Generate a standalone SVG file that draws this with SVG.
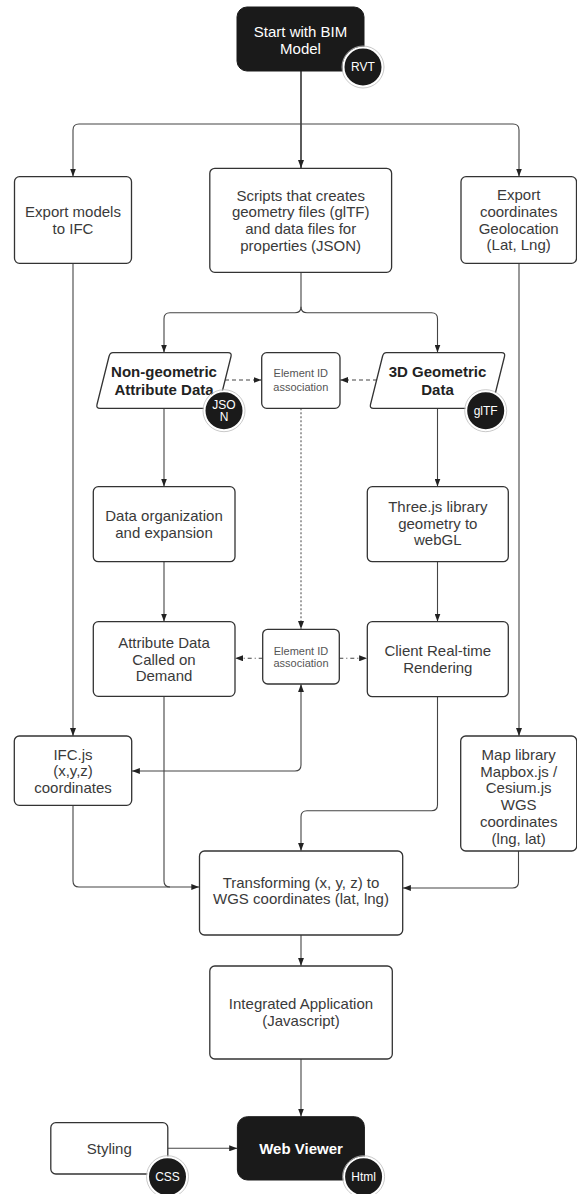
<svg xmlns="http://www.w3.org/2000/svg" width="577" height="1194" viewBox="0 0 577 1194">
<defs>
<marker id="arr" viewBox="0 0 8 6" refX="8" refY="3" markerWidth="8" markerHeight="6" markerUnits="userSpaceOnUse" orient="auto-start-reverse">
<path d="M0,0 L8,3 L0,6 z" fill="#222"/>
</marker>
<style>
.box{fill:#fff;stroke:#333;stroke-width:1.3}
.dark{fill:#1a1a1a;stroke:#1a1a1a;stroke-width:1}
.badge{fill:#1a1a1a;stroke:#fff;stroke-width:2}
.badge-ring{fill:none;stroke:#bbb;stroke-width:0.8}
.t{font-family:"Liberation Sans",Arial,sans-serif;font-size:15px;fill:#3a3a3a;text-anchor:middle}
.tb{font-family:"Liberation Sans",Arial,sans-serif;font-size:15px;font-weight:bold;fill:#222;text-anchor:middle}
.tw{font-family:"Liberation Sans",Arial,sans-serif;font-size:15px;fill:#fff;text-anchor:middle}
.ts{font-family:"Liberation Sans",Arial,sans-serif;font-size:11px;fill:#555;text-anchor:middle}
.tbadge{font-family:"Liberation Sans",Arial,sans-serif;font-size:12px;fill:#fff;text-anchor:middle}
.c{fill:none;stroke:#444;stroke-width:1.1}
.cm{fill:none;stroke:#333;stroke-width:1.6}
.dash{fill:none;stroke:#444;stroke-width:1.1;stroke-dasharray:4 3}
.dot{fill:none;stroke:#555;stroke-width:1.1;stroke-dasharray:2 2}
.dd{fill:none;stroke:#444;stroke-width:1.1;stroke-dasharray:4 3 1 3}
</style>
</defs>

<g id="connectors">
<path class="cm" d="M301,71 V168" marker-end="url(#arr)"/>
<path class="c" d="M301,124 H79 Q73,124 73,130 V176.5" marker-end="url(#arr)"/>
<path class="c" d="M301,124 H513 Q519,124 519,130 V176.5" marker-end="url(#arr)"/>
<path class="c" d="M73,263.3 V736" marker-end="url(#arr)"/>
<path class="c" d="M519,263.3 V736" marker-end="url(#arr)"/>
<path class="c" d="M301,272.3 V306.7 Q301,312.7 295,312.7 H170 Q164,312.7 164,318.7 V352.5" marker-end="url(#arr)"/>
<path class="c" d="M301,306.7 Q301,312.7 307,312.7 H431.5 Q437.5,312.7 437.5,318.7 V352.5" marker-end="url(#arr)"/>
<path class="dash" d="M225,380 H261.5" marker-end="url(#arr)"/>
<path class="dash" d="M377,380 H340.2" marker-end="url(#arr)"/>
<path class="dot" d="M301,408.3 V629" marker-end="url(#arr)"/>
<path class="c" d="M164,408.3 V486.5" marker-end="url(#arr)"/>
<path class="c" d="M437.5,408.3 V486.5" marker-end="url(#arr)"/>
<path class="c" d="M164,561.7 V621.5" marker-end="url(#arr)"/>
<path class="c" d="M437.5,561.7 V621.5" marker-end="url(#arr)"/>
<path class="dd" d="M262.7,658.3 H235.2" marker-end="url(#arr)"/>
<path class="dd" d="M339.3,658.3 H367.1" marker-end="url(#arr)"/>
<path class="c" d="M301,684.2 V765 Q301,771 295,771 H131.9" marker-start="url(#arr)" marker-end="url(#arr)"/>
<path class="c" d="M164,696.3 V881 Q164,887 170,887 H199.3" marker-end="url(#arr)"/>
<path class="c" d="M73,805.3 V881 Q73,887 79,887 H170"/>
<path class="c" d="M437.5,696.7 V804.7 Q437.5,810.7 431.5,810.7 H307 Q301,810.7 301,816.7 V850.8" marker-end="url(#arr)"/>
<path class="c" d="M518.5,851 V882 Q518.5,888 512.5,888 H402.9" marker-end="url(#arr)"/>
<path class="c" d="M301,935 V965.8" marker-end="url(#arr)"/>
<path class="c" d="M301,1059 V1116.5" marker-end="url(#arr)"/>
<path class="c" d="M167.8,1148.3 H237.2" marker-end="url(#arr)"/>
</g>

<g id="start">
<rect class="dark" x="237" y="7" width="127" height="64" rx="10"/>
<text class="tw" x="300.5" y="37">Start with BIM</text>
<text class="tw" x="300.5" y="53.5">Model</text>
<circle class="badge" cx="363" cy="67" r="19.5"/>
<circle class="badge-ring" cx="363" cy="67" r="21"/>
<text class="tbadge" x="363" y="71.3">RVT</text>
</g>

<g id="export-ifc">
<rect class="box" x="14.5" y="176.7" width="117" height="86.6" rx="5"/>
<text class="t" x="73" y="217">Export models</text>
<text class="t" x="73" y="233.7">to IFC</text>
</g>

<g id="scripts">
<rect class="box" x="209.8" y="168.3" width="181.8" height="104" rx="5"/>
<text class="t" x="300.7" y="200.5">Scripts that creates</text>
<text class="t" x="300.7" y="217.2">geometry files (glTF)</text>
<text class="t" x="300.7" y="233.9">and data files for</text>
<text class="t" x="300.7" y="250.6">properties (JSON)</text>
</g>

<g id="export-geo">
<rect class="box" x="461" y="176.7" width="115.5" height="86.6" rx="5"/>
<text class="t" x="518.7" y="200.2">Export</text>
<text class="t" x="518.7" y="216.9">coordinates</text>
<text class="t" x="518.7" y="233.6">Geolocation</text>
<text class="t" x="518.7" y="250.3">(Lat, Lng)</text>
</g>

<g id="non-geometric">
<path class="box" stroke-linejoin="round" d="M113,352.7 H228 Q232,352.7 231,356.5 L219,404.5 Q218,408.3 214,408.3 H100 Q96,408.3 97,404.5 L109,356.5 Q110,352.7 113,352.7 Z"/>
<text class="tb" x="164" y="377">Non-geometric</text>
<text class="tb" x="164" y="394.5">Attribute Data</text>
<circle class="badge" cx="224" cy="410.7" r="19.5"/>
<circle class="badge-ring" cx="224" cy="410.7" r="21"/>
<text class="tbadge" x="224" y="408.8">JSO</text>
<text class="tbadge" x="224" y="421.2">N</text>
</g>

<g id="element-id-1">
<rect class="box" x="261.7" y="352.7" width="78.3" height="55.6" rx="5"/>
<text class="ts" x="300.8" y="377.2">Element ID</text>
<text class="ts" x="300.8" y="390.6">association</text>
</g>

<g id="geometric-3d">
<path class="box" stroke-linejoin="round" d="M386.5,352.7 H501.5 Q505.5,352.7 504.5,356.5 L492.5,404.5 Q491.5,408.3 487.5,408.3 H373.5 Q369.5,408.3 370.5,404.5 L382.5,356.5 Q383.5,352.7 386.5,352.7 Z"/>
<text class="tb" x="437.5" y="377">3D Geometric</text>
<text class="tb" x="437.5" y="394.5">Data</text>
<circle class="badge" cx="485.7" cy="410.7" r="19.5"/>
<circle class="badge-ring" cx="485.7" cy="410.7" r="21"/>
<text class="tbadge" x="485.7" y="415">glTF</text>
</g>

<g id="data-org">
<rect class="box" x="93.3" y="486.7" width="141.7" height="75" rx="5"/>
<text class="t" x="164" y="521">Data organization</text>
<text class="t" x="164" y="537.6">and expansion</text>
</g>

<g id="threejs">
<rect class="box" x="367.3" y="486.7" width="141" height="75" rx="5"/>
<text class="t" x="437.8" y="512">Three.js library</text>
<text class="t" x="437.8" y="528.6">geometry to</text>
<text class="t" x="437.8" y="545.3">webGL</text>
</g>

<g id="attr-demand">
<rect class="box" x="93.3" y="621.7" width="141.7" height="74.6" rx="5"/>
<text class="t" x="164" y="648">Attribute Data</text>
<text class="t" x="164" y="664.6">Called on</text>
<text class="t" x="164" y="681.3">Demand</text>
</g>

<g id="element-id-2">
<rect class="box" x="262.7" y="629.3" width="76.6" height="54.7" rx="5"/>
<text class="ts" x="301" y="654.6">Element ID</text>
<text class="ts" x="301" y="667.2">association</text>
</g>

<g id="client">
<rect class="box" x="367.3" y="621.7" width="141" height="75" rx="5"/>
<text class="t" x="437.8" y="656">Client Real-time</text>
<text class="t" x="437.8" y="672.6">Rendering</text>
</g>

<g id="ifcjs">
<rect class="box" x="14.3" y="736" width="117.4" height="69.3" rx="5"/>
<text class="t" x="73" y="759.6">IFC.js</text>
<text class="t" x="73" y="776.3">(x,y,z)</text>
<text class="t" x="73" y="793">coordinates</text>
</g>

<g id="map-lib">
<rect class="box" x="460.7" y="736" width="116" height="115" rx="5"/>
<text class="t" x="518.7" y="760">Map library</text>
<text class="t" x="518.7" y="776.7">Mapbox.js /</text>
<text class="t" x="518.7" y="793.4">Cesium.js</text>
<text class="t" x="518.7" y="810.1">WGS</text>
<text class="t" x="518.7" y="826.8">coordinates</text>
<text class="t" x="518.7" y="843.5">(lng, lat)</text>
</g>

<g id="transform">
<rect class="box" x="199.5" y="851" width="203.2" height="84" rx="5"/>
<text class="t" x="301" y="887.5">Transforming (x, y, z) to</text>
<text class="t" x="301" y="904.2">WGS coordinates (lat, lng)</text>
</g>

<g id="integrated">
<rect class="box" x="209.8" y="966" width="182.5" height="93" rx="5"/>
<text class="t" x="301" y="1009">Integrated Application</text>
<text class="t" x="301" y="1025.7">(Javascript)</text>
</g>

<g id="styling">
<rect class="box" x="50.8" y="1122.7" width="117" height="51.3" rx="5"/>
<text class="t" x="109.3" y="1153.5">Styling</text>
<circle class="badge" cx="167.5" cy="1176.7" r="19.5"/>
<circle class="badge-ring" cx="167.5" cy="1176.7" r="21"/>
<text class="tbadge" x="167.5" y="1181">CSS</text>
</g>

<g id="web-viewer">
<rect class="dark" x="237.4" y="1116.7" width="127" height="63.3" rx="10"/>
<text class="tw" x="301" y="1153.5" font-weight="bold">Web Viewer</text>
<circle class="badge" cx="363.6" cy="1176.7" r="19.5"/>
<circle class="badge-ring" cx="363.6" cy="1176.7" r="21"/>
<text class="tbadge" x="363.6" y="1181">Html</text>
</g>
</svg>
